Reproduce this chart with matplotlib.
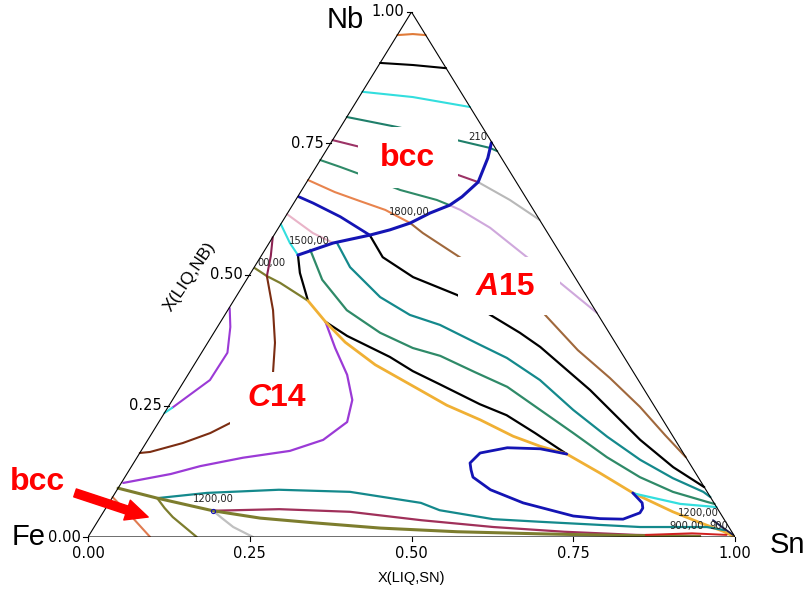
import matplotlib
matplotlib.use('Agg')
import matplotlib.pyplot as plt
import matplotlib.transforms as mtransforms
from matplotlib.patches import Rectangle

plt.rcParams['font.family'] = ['Liberation Sans', 'DejaVu Sans']

# liquidus lines as (X(LIQ,SN), X(LIQ,NB)) pairs
bcc_a15 = [(0.248, 0.751), (0.257, 0.722), (0.265, 0.676), (0.254, 0.648), (0.243, 0.632),
           (0.220, 0.617), (0.199, 0.598), (0.174, 0.585), (0.148, 0.575), (0.099, 0.560),
           (0.056, 0.537)]
bcc_edge = [(0.148, 0.575), (0.085, 0.610), (0.030, 0.636), (0.002, 0.648)]
a15_loop = [(0.661, 0.158), (0.615, 0.168), (0.563, 0.170), (0.526, 0.160), (0.520, 0.141),
            (0.528, 0.128), (0.538, 0.114), (0.577, 0.090), (0.640, 0.065), (0.730, 0.040),
            (0.774, 0.035), (0.810, 0.034), (0.830, 0.046), (0.830, 0.055), (0.824, 0.065),
            (0.800, 0.084)]
black_short = [(0.056, 0.537), (0.076, 0.503), (0.115, 0.450)]
olive_upper = [(0.002, 0.512), (0.028, 0.497), (0.055, 0.484), (0.115, 0.450)]
a15_c14 = [(0.115, 0.450), (0.162, 0.410), (0.212, 0.371), (0.280, 0.328), (0.373, 0.280),
           (0.429, 0.251), (0.495, 0.223), (0.561, 0.192), (0.612, 0.173), (0.661, 0.158),
           (0.730, 0.122), (0.800, 0.084), (0.880, 0.048), (0.933, 0.027), (0.976, 0.011),
           (1.000, 0.000)]
black_lower = [(0.162, 0.410), (0.209, 0.383), (0.295, 0.343), (0.344, 0.316), (0.398, 0.291),
               (0.479, 0.253), (0.531, 0.232), (0.592, 0.198), (0.661, 0.158)]
c14_purple = [(0.162, 0.410), (0.202, 0.360), (0.246, 0.309), (0.278, 0.261), (0.291, 0.219),
              (0.271, 0.185), (0.230, 0.164), (0.164, 0.151), (0.106, 0.135), (0.068, 0.120),
              (0.026, 0.109), (0.003, 0.103)]
purple_left = [(0.001, 0.436), (0.020, 0.400), (0.040, 0.351), (0.039, 0.299), (0.016, 0.261),
               (0.007, 0.246)]
cyan_tip = [(0.007, 0.246), (0.000, 0.236)]
brown_left = [(0.000, 0.160), (0.015, 0.162), (0.057, 0.179), (0.090, 0.198), (0.111, 0.217)]
brown_mid = [(0.028, 0.497), (0.070, 0.432), (0.104, 0.370), (0.129, 0.314)]
maroon_c14 = [(0.000, 0.571), (0.015, 0.535), (0.028, 0.497)]

green_fan = [(0.070, 0.547), (0.117, 0.490), (0.184, 0.432), (0.257, 0.389), (0.322, 0.360),
             (0.372, 0.345), (0.441, 0.314), (0.505, 0.286), (0.578, 0.242), (0.651, 0.198),
             (0.726, 0.152), (0.796, 0.114), (0.861, 0.086), (0.923, 0.067), (0.937, 0.063)]
teal_fan = [(0.105, 0.560), (0.148, 0.514), (0.223, 0.457), (0.286, 0.423), (0.342, 0.404),
            (0.423, 0.366), (0.477, 0.341), (0.549, 0.299), (0.629, 0.242), (0.707, 0.191),
            (0.780, 0.147), (0.848, 0.112), (0.908, 0.086), (0.924, 0.076)]
black_fan = [(0.148, 0.575), (0.189, 0.533), (0.255, 0.495), (0.340, 0.461), (0.403, 0.427),
             (0.473, 0.389), (0.518, 0.362), (0.636, 0.280), (0.761, 0.185), (0.838, 0.133),
             (0.905, 0.095)]
brown_fan = [(0.199, 0.598), (0.228, 0.579), (0.308, 0.533), (0.395, 0.484), (0.490, 0.427),
             (0.579, 0.356), (0.655, 0.303), (0.729, 0.248), (0.795, 0.194), (0.848, 0.152)]
lilac_fan = [(0.243, 0.632), (0.264, 0.623), (0.327, 0.589), (0.412, 0.533), (0.488, 0.484),
             (0.573, 0.427)]
gray_fan = [(0.265, 0.676), (0.331, 0.642), (0.396, 0.604)]

orange_bcc = [(0.000, 0.680), (0.053, 0.657), (0.100, 0.640), (0.148, 0.623), (0.199, 0.598)]
green_bcc = [(0.000, 0.718), (0.037, 0.705), (0.075, 0.691), (0.152, 0.661), (0.218, 0.642),
             (0.243, 0.632)]
maroon_bcc = [(0.000, 0.756), (0.049, 0.743), (0.141, 0.714), (0.226, 0.690), (0.265, 0.676)]
teal_bcc = [(0.000, 0.800), (0.087, 0.781), (0.192, 0.756), (0.251, 0.741), (0.265, 0.735)]
cyan_bcc = [(0.000, 0.848), (0.083, 0.838), (0.181, 0.819)]
black_bcc = [(0.000, 0.903), (0.053, 0.899), (0.107, 0.893)]
orange_top = [(0.000, 0.956), (0.023, 0.958), (0.044, 0.956)]
pink_bcc = [(0.000, 0.615), (0.058, 0.579), (0.099, 0.560)]
cyan_small = [(0.000, 0.596), (0.032, 0.560), (0.056, 0.537)]

olive_bcc = [(0.000, 0.093), (0.070, 0.074), (0.168, 0.050), (0.248, 0.036), (0.336, 0.027),
             (0.443, 0.017), (0.566, 0.010), (0.696, 0.006), (0.821, 0.003), (0.945, 0.001)]
olive_down = [(0.070, 0.074), (0.091, 0.055), (0.112, 0.038), (0.168, 0.000)]
salmon_low = [(0.000, 0.076), (0.044, 0.042), (0.096, 0.000)]
gray_low = [(0.168, 0.050), (0.192, 0.034), (0.215, 0.019), (0.255, 0.000)]
teal_low = [(0.070, 0.074), (0.142, 0.084), (0.250, 0.090), (0.362, 0.086), (0.482, 0.065),
            (0.518, 0.051), (0.609, 0.034), (0.684, 0.029), (0.844, 0.019), (0.947, 0.019),
            (0.978, 0.013)]
maroon_low = [(0.168, 0.050), (0.269, 0.053), (0.381, 0.048), (0.499, 0.032), (0.617, 0.019),
              (0.731, 0.010), (0.845, 0.004), (0.945, 0.002)]
cyan_corner = [(0.800, 0.084), (0.806, 0.082), (0.884, 0.063), (0.943, 0.057)]
red_corner = [(0.860, 0.004), (0.930, 0.007), (0.985, 0.004)]
dark_corner = [(0.950, 0.032), (0.972, 0.018), (0.995, 0.004)]
dot_1200 = (0.168, 0.050)

ticks = [0.0, 0.25, 0.5, 0.75, 1.0]
tick_labels = ['0.00', '0.25', '0.50', '0.75', '1.00']

# (curve, colour, width)
curves = [
    (orange_top, '#e07b39', 1.5), (black_bcc, 'black', 1.5), (cyan_bcc, '#33dede', 1.5),
    (teal_bcc, '#1f7f6a', 1.5), (maroon_bcc, '#9c3366', 1.5), (green_bcc, '#2f8a68', 1.5),
    (orange_bcc, '#e8844e', 1.5), (pink_bcc, '#e9b4c8', 1.5), (cyan_small, '#33dede', 1.5),
    (gray_fan, '#b8b8b8', 1.5), (lilac_fan, '#cfa8dc', 1.5), (brown_fan, '#a0683c', 1.5),
    (black_fan, 'black', 1.6), (teal_fan, '#14898c', 1.6), (green_fan, '#2f8a68', 1.6),
    (black_short, 'black', 1.6), (olive_upper, '#7d7d2e', 1.6), (black_lower, 'black', 1.6),
    (maroon_c14, '#8b2252', 1.5), (brown_mid, '#7b2d12', 1.5), (brown_left, '#7b2d12', 1.5),
    (purple_left, '#9b3ad6', 1.5), (cyan_tip, '#33dede', 1.5), (c14_purple, '#9b3ad6', 1.6),
    (a15_c14, '#f0b034', 2.0), (cyan_corner, '#33dede', 1.6),
    (teal_low, '#14898c', 1.6), (maroon_low, '#a0305a', 1.6), (gray_low, '#c0c0c0', 1.6),
    (salmon_low, '#e07b50', 1.5), (olive_down, '#7d7d2e', 1.6), (olive_bcc, '#7d7d2e', 2.2),
    (red_corner, '#d02020', 1.4), (dark_corner, '#202050', 1.4),
    (bcc_edge, '#1414b4', 2.0), (bcc_a15, '#1414b4', 2.2), (a15_loop, '#1414b4', 2.0),
]

fig = plt.figure(figsize=(8.09, 5.99), dpi=100)
ax = fig.add_axes([88 / 809, 62 / 599, 647 / 809, 525 / 599])
ax.set_xlim(0, 1)
ax.set_ylim(0, 1)
ax.axis('off')

# ternary (sn, nb) -> plot coordinates
tern = mtransforms.Affine2D.from_values(1, 0, 0.5, 1, 0, 0) + ax.transData

ax.plot([0, 1, 0, 0], [0, 0, 1, 0], color='black', lw=0.8, transform=tern, zorder=3)

for pts, col, lw in curves:
    sn = [p[0] for p in pts]
    nb = [p[1] for p in pts]
    ax.plot(sn, nb, color=col, lw=lw, transform=tern, zorder=2,
            solid_capstyle='round', solid_joinstyle='round')

ax.plot([dot_1200[0]], [dot_1200[1]], 'o', mfc='none', mec='#1414b4', ms=3, mew=0.8,
        transform=tern, zorder=3)

# ticks and tick labels
tick_font = dict(fontsize=10.5, family='DejaVu Sans', clip_on=False)
for t, lab in zip(ticks, tick_labels):
    ax.plot([t / 2 - 0.007, t / 2], [t, t], color='black', lw=0.8, clip_on=False)
    ax.text(t / 2 - 0.011, t, lab, ha='right', va='center', **tick_font)
    ax.plot([t, t], [0, -0.008], color='black', lw=0.8, clip_on=False)
    ax.text(t, -0.031, lab, ha='center', va='center', **tick_font)

ax.text(0.426, 0.985, 'Nb', ha='right', va='center', fontsize=21)
ax.text(-0.066, 0.0, 'Fe', ha='right', va='center', fontsize=21)
ax.text(1.053, -0.015, 'Sn', ha='left', va='center', fontsize=21)
ax.text(0.5, -0.078, 'X(LIQ,SN)', ha='center', va='center', fontsize=10.5)
ax.text(0.158, 0.495, 'X(LIQ,NB)', ha='center', va='center', fontsize=12.5, rotation=56)

# small temperature labels
small = dict(fontsize=7.2, family='DejaVu Sans', color='#222222', ha='center', va='center',
             zorder=6)
ax.text(0.342, 0.564, '1500,00', **small)
ax.text(0.496, 0.619, '1800,00', **small)
ax.text(0.603, 0.762, '210', **small)
ax.text(0.284, 0.522, '00,00', **small)
ax.text(0.193, 0.072, '1200,00', **small)
ax.text(0.944, 0.046, '1200,00', **small)
ax.text(0.925, 0.021, '900,00', **small)
ax.text(0.975, 0.021, '900', **small)

# phase labels on white boxes
for x0, x1, y0, y1 in [(0.417, 0.572, 0.665, 0.781), (0.572, 0.730, 0.423, 0.533),
                       (0.2195, 0.351, 0.208, 0.314)]:
    ax.add_patch(Rectangle((x0, y0), x1 - x0, y1 - y0, fc='white', ec='none', zorder=4))

red = dict(color='red', fontsize=23, fontweight='bold', va='center', zorder=5)
ax.text(0.493, 0.722, 'bcc', ha='center', **red)
ax.text(0.635, 0.476, 'A', ha='right', style='italic', **red)
ax.text(0.635, 0.476, '15', ha='left', **red)
ax.text(0.282, 0.265, 'C', ha='right', style='italic', **red)
ax.text(0.282, 0.265, '14', ha='left', **red)
ax.text(-0.078, 0.104, 'bcc', ha='center', clip_on=False, **red)

ax.annotate('', xy=(0.093, 0.038), xytext=(-0.020, 0.084), annotation_clip=False,
            arrowprops=dict(arrowstyle='simple,head_length=0.8,head_width=0.75,tail_width=0.3',
                            color='red', mutation_scale=20, shrinkA=0, shrinkB=0))

fig.savefig('out.png', dpi=100)
